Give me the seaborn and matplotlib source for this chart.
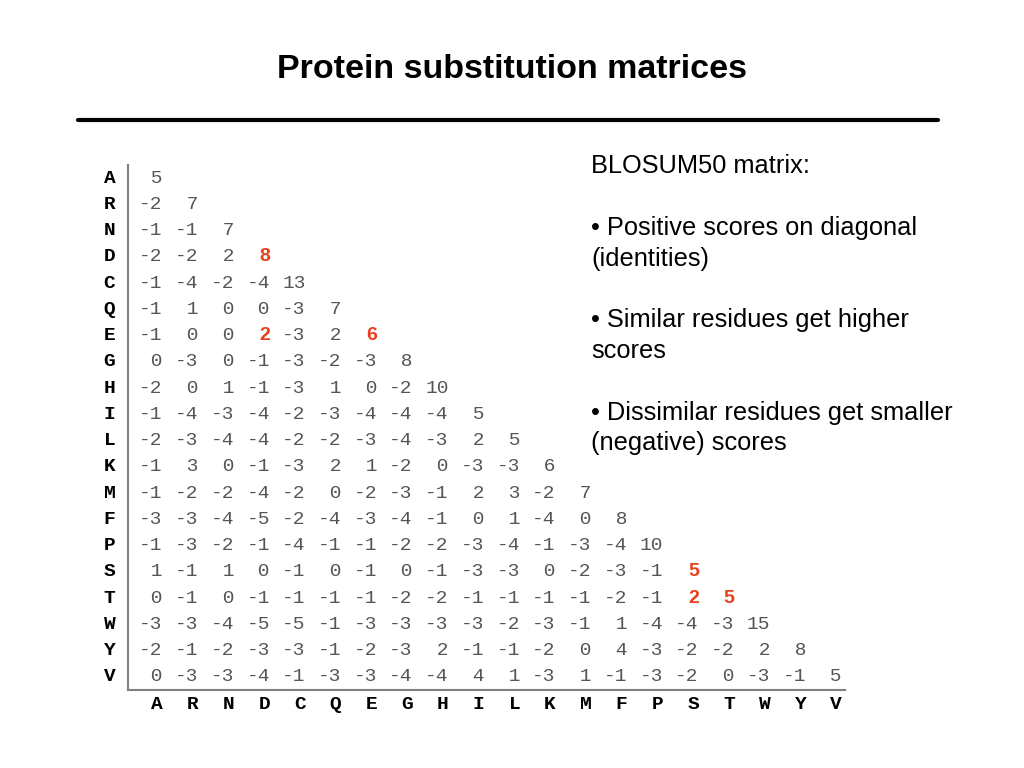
import numpy as np
import pandas as pd
import matplotlib
matplotlib.use("Agg")
import matplotlib.pyplot as plt
import seaborn as sns

sns.set_theme(style="white")
plt.rcParams["font.family"] = ["Liberation Sans", "DejaVu Sans"]

# BLOSUM50 lower triangle, row by row
residues = list("ARNDCQEGHILKMFPSTWYV")
rows = [
    [5],
    [-2, 7],
    [-1, -1, 7],
    [-2, -2, 2, 8],
    [-1, -4, -2, -4, 13],
    [-1, 1, 0, 0, -3, 7],
    [-1, 0, 0, 2, -3, 2, 6],
    [0, -3, 0, -1, -3, -2, -3, 8],
    [-2, 0, 1, -1, -3, 1, 0, -2, 10],
    [-1, -4, -3, -4, -2, -3, -4, -4, -4, 5],
    [-2, -3, -4, -4, -2, -2, -3, -4, -3, 2, 5],
    [-1, 3, 0, -1, -3, 2, 1, -2, 0, -3, -3, 6],
    [-1, -2, -2, -4, -2, 0, -2, -3, -1, 2, 3, -2, 7],
    [-3, -3, -4, -5, -2, -4, -3, -4, -1, 0, 1, -4, 0, 8],
    [-1, -3, -2, -1, -4, -1, -1, -2, -2, -3, -4, -1, -3, -4, 10],
    [1, -1, 1, 0, -1, 0, -1, 0, -1, -3, -3, 0, -2, -3, -1, 5],
    [0, -1, 0, -1, -1, -1, -1, -2, -2, -1, -1, -1, -1, -2, -1, 2, 5],
    [-3, -3, -4, -5, -5, -1, -3, -3, -3, -3, -2, -3, -1, 1, -4, -4, -3, 15],
    [-2, -1, -2, -3, -3, -1, -2, -3, 2, -1, -1, -2, 0, 4, -3, -2, -2, 2, 8],
    [0, -3, -3, -4, -1, -3, -3, -4, -4, 4, 1, -3, 1, -1, -3, -2, 0, -3, -1, 5],
]
# highlighted cells (row, col): D/D, E/D, E/E, S/S, T/S, T/T
highlight = [("D", "D"), ("E", "D"), ("E", "E"), ("S", "S"), ("T", "S"), ("T", "T")]

bullets = [
    "BLOSUM50 matrix:",
    "\u2022 Positive scores on diagonal",
    "(identities)",
    "\u2022 Similar residues get higher",
    "scores",
    "\u2022 Dissimilar residues get smaller",
    "(negative) scores",
]

n = len(residues)
mat = np.full((n, n), np.nan)
for i, r in enumerate(rows):
    mat[i, : len(r)] = r
df = pd.DataFrame(mat, index=residues, columns=residues)
labels = df.map(lambda v: "" if np.isnan(v) else f"{int(v):>2d}")
mask = df.isna()

fig = plt.figure(figsize=(10.24, 7.68), dpi=100)
ax = fig.add_axes([128 / 1024, 1 - 690 / 768, (845 - 128) / 1024, (690 - 165) / 768])

sns.heatmap(df, mask=mask, annot=labels, fmt="", cmap=["white"], cbar=False,
            linewidths=0, ax=ax,
            annot_kws={"family": "Liberation Mono", "size": 14, "color": "#555555"})

# right-align the numbers so single digits line up with the "-n" entries
hl = {(residues.index(r), residues.index(c)) for r, c in highlight}
for t in ax.texts:
    x, y = t.get_position()
    j, i = int(x), int(y)
    t.set_ha("right")
    t.set_x(x + 0.16)
    if (i, j) in hl:
        t.set_text(t.get_text().strip())
        t.set_family("Liberation Sans")
        t.set_weight("bold")
        t.set_color("#e8401c")

ax.set_xlim(-0.31, 19.75)
ax.set_ylim(20.0, 0.0)
for s in ["top", "right"]:
    ax.spines[s].set_visible(False)
for s in ["left", "bottom"]:
    ax.spines[s].set_visible(True)
    ax.spines[s].set_color("#808080")
    ax.spines[s].set_linewidth(1.5)

ax.tick_params(axis="both", length=0)
ax.tick_params(axis="y", pad=9)
ax.tick_params(axis="x", pad=4)
for lab in ax.get_xticklabels() + ax.get_yticklabels():
    lab.set_family("Liberation Mono")
    lab.set_weight("bold")
    lab.set_fontsize(14)
    lab.set_color("black")
    lab.set_rotation(0)
ax.set_xlabel("")
ax.set_ylabel("")

fig.text(0.5, 1 - 70 / 768, "Protein substitution matrices", ha="center", va="center",
         fontsize=24.5, weight="bold", color="black")
fig.add_artist(plt.Line2D([78 / 1024, 938 / 1024], [1 - 120 / 768] * 2, color="black", lw=3))

ypix = [166, 228, 259, 320, 351, 413, 443]
for s, yp in zip(bullets, ypix):
    fig.text(591 / 1024, 1 - yp / 768, s, ha="left", va="center", fontsize=18.3, color="black")

fig.savefig("out.png", dpi=100)
